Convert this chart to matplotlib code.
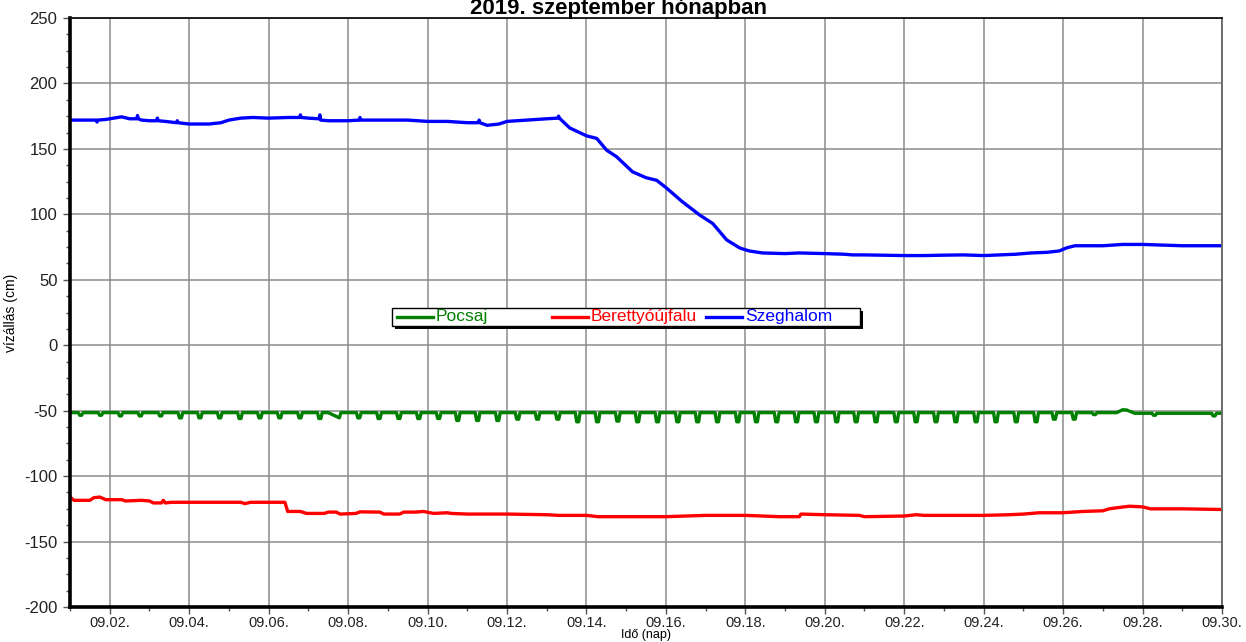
import numpy as np
import matplotlib.pyplot as plt
from matplotlib.patches import Rectangle
from matplotlib.lines import Line2D
from matplotlib.ticker import MultipleLocator

plt.rcParams['font.family'] = ['Liberation Sans', 'DejaVu Sans']
plt.rcParams['axes.unicode_minus'] = False

# --- data (day of September, water level in cm) ---
szeghalom_day = [1.0, 1.5, 1.66, 1.68, 1.70, 1.9, 2.1, 2.3, 2.5, 2.68, 2.70, 2.72, 2.8, 3.0,
                 3.18, 3.20, 3.22, 3.4, 3.68, 3.70, 3.72, 4.0, 4.5, 4.8, 5.0, 5.3, 5.6, 6.0,
                 6.5, 6.78, 6.80, 6.82, 7.0, 7.27, 7.29, 7.31, 7.5, 8.0, 8.28, 8.30, 8.32, 9.0,
                 9.5, 10.0, 10.5, 11.0, 11.28, 11.30, 11.32, 11.5, 11.8, 12.0, 12.5, 13.0,
                 13.28, 13.30, 13.32, 13.58, 14.0, 14.26, 14.51, 14.76, 15.16, 15.5, 15.77,
                 16.02, 16.4, 16.85, 17.18, 17.53, 17.86, 18.1, 18.43, 19.0, 19.36, 20.0,
                 20.5, 20.7, 21.0, 22.0, 22.5, 23.0, 23.5, 24.0, 24.4, 24.8, 25.2, 25.6,
                 25.9, 26.1, 26.3, 27.0, 27.5, 28.0, 28.5, 29.0, 30.0]
szeghalom_val = [172, 172, 172, 170.5, 172, 172.5, 173.5, 174.5, 173, 173, 175.5, 173, 172, 171.5,
                 171.5, 173.5, 171.5, 171, 170, 171.5, 170, 169, 169, 170, 172, 173.5, 174, 173.5,
                 174, 174, 176, 174, 173.5, 173, 176, 172, 171.5, 171.5, 172, 174, 172, 172,
                 172, 171, 171, 170, 170, 172, 170, 168, 169, 171, 172, 173,
                 173.5, 175, 173.5, 166, 160, 158, 149, 144, 132.5, 128, 126,
                 120, 110, 99.5, 93, 80.5, 74.3, 72, 70.5, 70, 70.5, 70,
                 69.5, 69, 69, 68.5, 68.5, 68.8, 69, 68.5, 69, 69.5, 70.5, 71,
                 72, 74.5, 76, 76, 77, 77, 76.5, 76, 76]

berettyo_day = [1.0, 1.1, 1.5, 1.6, 1.75, 1.9, 2.3, 2.4, 2.8, 3.0, 3.1, 3.3, 3.35, 3.4, 3.55,
                4.0, 5.0, 5.3, 5.4, 5.55, 6.41, 6.48, 6.8, 6.95, 7.4, 7.5, 7.7, 7.8, 8.2,
                8.3, 8.8, 8.9, 9.3, 9.4, 9.7, 9.9, 10.15, 10.5, 10.6, 11.0, 12.0, 13.0, 13.3,
                14.0, 14.3, 15.0, 16.0, 16.5, 17.0, 18.0, 18.86, 19.36, 19.4, 20.0, 20.87,
                21.0, 22.0, 22.3, 22.5, 23.0, 24.0, 24.65, 25.0, 25.4, 26.0, 26.5, 27.0,
                27.16, 27.4, 27.67, 28.0, 28.2, 29.0, 30.0]
berettyo_val = [-116, -118.5, -118.5, -116.5, -116, -118, -118, -119, -118.5, -119, -120.5, -120.5,
                -118.5, -120.5, -120, -120, -120, -120, -121, -120, -120, -127, -127, -128.5,
                -128.5, -127.5, -127.5, -129, -128.5, -127.3, -127.5, -129, -129, -127.5,
                -127.5, -127, -128.5, -128, -128.5, -129, -129, -129.5, -130, -130, -131,
                -131, -131, -130.5, -130, -130, -131, -131, -129, -129.5, -130, -131,
                -130.5, -129.5, -130, -130, -130, -129.5, -129, -128, -128, -127, -126.5,
                -125, -124, -123, -123.5, -125, -125, -125.5]

pocsaj_base_day = [1.0, 7.5, 7.78, 7.82, 26.9, 27.35, 27.5, 27.6, 27.8, 30.0]
pocsaj_base_val = [-51.5, -51.5, -55.5, -51.5, -51.5, -51.5, -49.3, -49.5, -52, -52]
pocsaj_dip_day = [1.27, 1.77, 2.27, 2.77, 3.28, 3.78, 4.27, 4.77, 5.28, 5.78, 6.28, 6.79, 7.29,
                  8.27, 8.78, 9.28, 9.78, 10.28, 10.76, 11.26, 11.77, 12.27, 12.77, 13.28,
                  13.78, 14.28, 14.79, 15.29, 15.79, 16.30, 16.80, 17.30, 17.81, 18.28, 18.79,
                  19.29, 19.79, 20.30, 20.79, 21.29, 21.80, 22.30, 22.80, 23.30, 23.81, 24.31,
                  24.82, 25.32, 25.78, 26.28, 26.79, 28.30, 29.80]
pocsaj_dip_val = [-53.5, -53.5, -54, -54, -54, -55.5, -55.5, -55.5, -56, -55.5, -55.5, -55.5, -56,
                  -55.5, -56, -56, -56, -56, -57.5, -57.5, -57.5, -56.5, -56.5, -56.5,
                  -58.5, -58.5, -58, -58.5, -58.5, -58.5, -58.5, -58.5, -58.5, -58.5, -58.5,
                  -58.5, -58.5, -58.5, -58.5, -58.5, -58.5, -58.5, -58.5, -58.5, -58.5, -58.5,
                  -58.5, -58.5, -56.5, -56.5, -53, -53.5, -54]

tick_days = list(range(2, 31, 2))
tick_labels = ['09.%02d.' % d for d in tick_days]

GREEN = '#008000'
RED = '#ff0000'
BLUE = '#0000ff'

# build the Pocsaj trace: baseline with short twice-daily dips
pd_ = list(pocsaj_base_day)
pv_ = list(pocsaj_base_val)
for d, v in zip(pocsaj_dip_day, pocsaj_dip_val):
    base = np.interp(d, pocsaj_base_day, pocsaj_base_val)
    pd_ += [d - 0.06, d - 0.025, d + 0.025, d + 0.06]
    pv_ += [base, v, v, base]
order = np.argsort(pd_)
pocsaj_x = np.array(pd_)[order]
pocsaj_y = np.array(pv_)[order]

fig = plt.figure(figsize=(12.46, 6.42), dpi=100)
ax = fig.add_axes([70 / 1246, 35 / 642, 1152 / 1246, 589 / 642])

ax.plot(pocsaj_x, pocsaj_y, color=GREEN, lw=2.4, solid_joinstyle='round')
ax.plot(berettyo_day, berettyo_val, color=RED, lw=2.4, solid_joinstyle='round')
ax.plot(szeghalom_day, szeghalom_val, color=BLUE, lw=2.4, solid_joinstyle='round')

ax.set_xlim(1, 30)
ax.set_ylim(-200, 250)
ax.set_xticks(tick_days)
ax.set_xticklabels(tick_labels)
ax.xaxis.set_minor_locator(MultipleLocator(1))
ax.yaxis.set_major_locator(MultipleLocator(50))
ax.yaxis.set_minor_locator(MultipleLocator(12.5))
ax.grid(True, which='major', color='#8c8c8c', lw=1.1)
ax.set_axisbelow(True)
ax.tick_params(which='major', direction='out', length=5, width=1, color='#555555',
               labelcolor='#222222', pad=4)
ax.tick_params(axis='x', which='major', labelsize=10.5, pad=1.5)
ax.tick_params(axis='y', which='major', labelsize=12)
ax.tick_params(which='minor', direction='out', length=3, width=1, color='#555555')

for side in ['left', 'bottom']:
    ax.spines[side].set_linewidth(2.6)
    ax.spines[side].set_color('black')
ax.spines['top'].set_linewidth(1.3)
ax.spines['top'].set_color('#111111')
ax.spines['right'].set_linewidth(1.3)
ax.spines['right'].set_color('#666666')

ax.set_xlabel('Idő (nap)', fontsize=9)
ax.xaxis.set_label_coords(0.5, -22 / 589)
ax.set_ylabel('vízállás (cm)', fontsize=10)
ax.yaxis.set_label_coords(-52 / 1152, 0.5)

fig.text(0.496, 1 - 14 / 642, '2019. szeptember hónapban', ha='center', va='baseline',
         fontsize=16, fontweight='bold')

# legend box with shadow, fixed-width columns
x0, x1 = 322 / 1152, 790 / 1152
y0, y1 = 281 / 589, 299 / 589
ax.add_patch(Rectangle((x0 + 3 / 1152, y0 - 3 / 589), x1 - x0, y1 - y0, transform=ax.transAxes,
                       facecolor='black', edgecolor='none', zorder=5))
ax.add_patch(Rectangle((x0, y0), x1 - x0, y1 - y0, transform=ax.transAxes,
                       facecolor='white', edgecolor='black', lw=1, zorder=6))
ym = (y0 + y1) / 2
for name, col, hx in [('Pocsaj', GREEN, 327), ('Berettyóújfalu', RED, 482), ('Szeghalom', BLUE, 636)]:
    ax.add_line(Line2D([hx / 1152, (hx + 36) / 1152], [ym, ym], transform=ax.transAxes,
                       color=col, lw=2.4, zorder=7))
    ax.text((hx + 39) / 1152, ym, name, transform=ax.transAxes, color=col, fontsize=12.5,
            va='center', ha='left', zorder=7)

fig.savefig('out.png', dpi=100)
